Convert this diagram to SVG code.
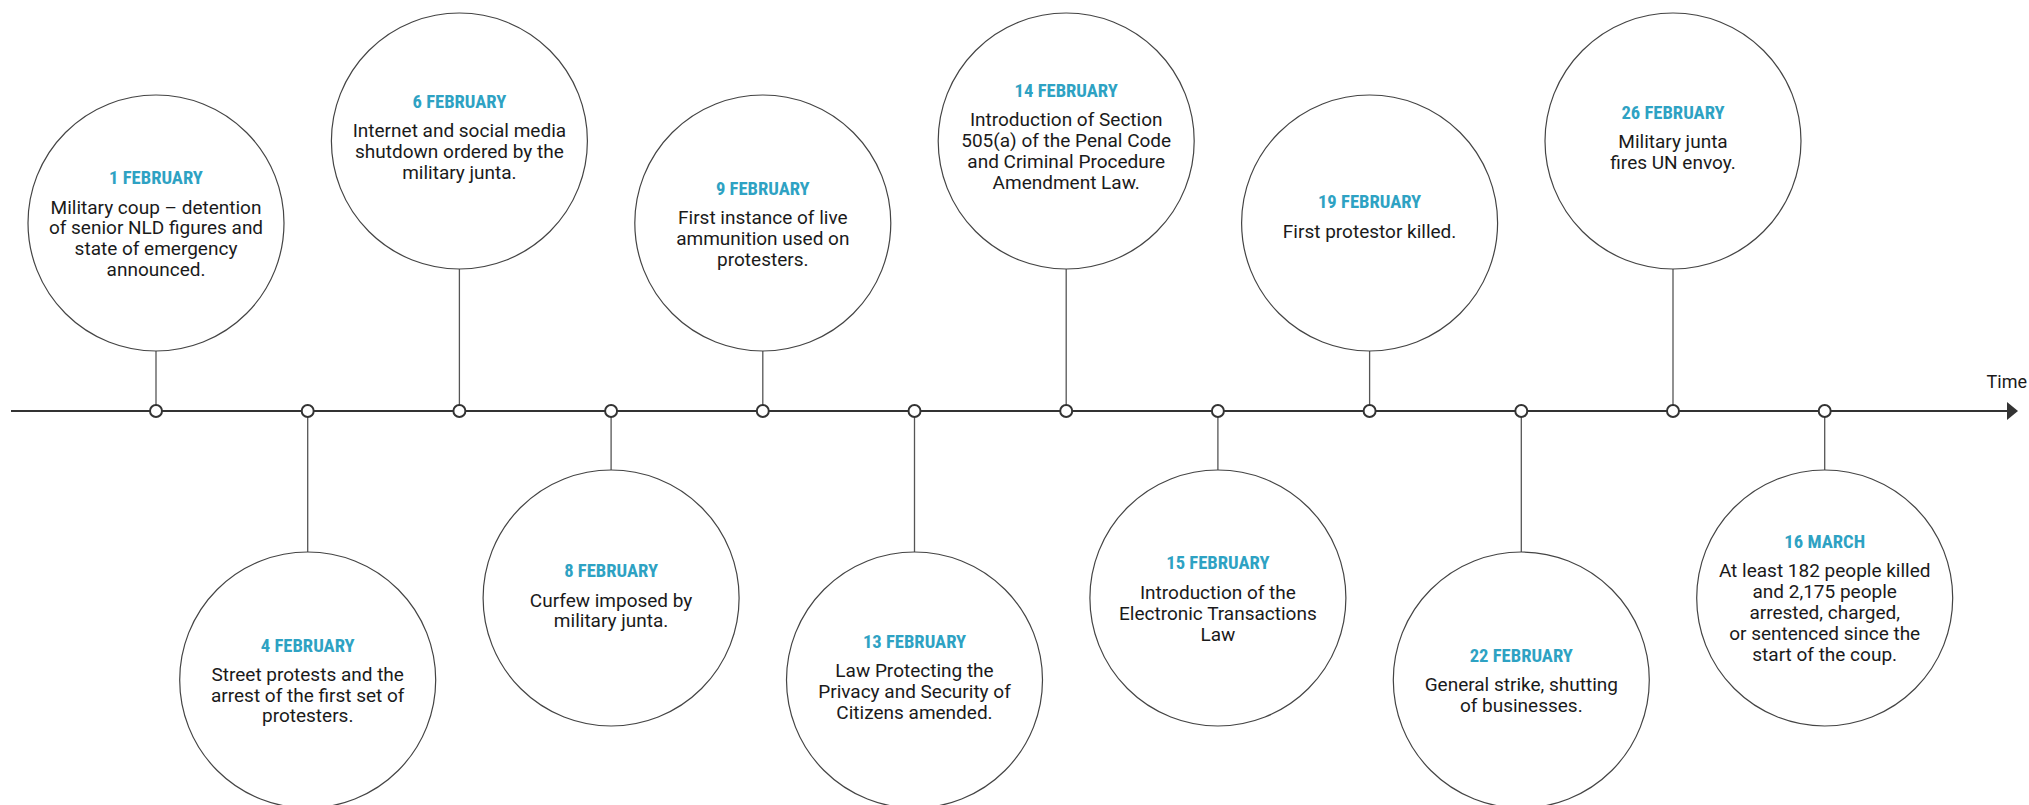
<svg xmlns="http://www.w3.org/2000/svg" width="2029" height="805" viewBox="0 0 2029 805">
<style>
.bg{fill:#ffffff}
.node circle{fill:#ffffff;stroke:#444444;stroke-width:1.2}
.date{font-family:"Liberation Sans Narrow","Roboto Condensed","Roboto",sans-serif;font-weight:700;font-size:18.6px;fill:#2ea2c3;text-anchor:middle}
.body{font-family:Roboto,"Liberation Sans",sans-serif;font-size:19px;fill:#1a1a1a;text-anchor:middle}
.stem{stroke:#555555;stroke-width:1.3;fill:none}
.axis{stroke:#333333;stroke-width:2;fill:none}
.tick{fill:#ffffff;stroke:#333333;stroke-width:2}
.time{font-family:Roboto,"Liberation Sans",sans-serif;font-size:18px;fill:#1a1a1a;text-anchor:end}
</style>
<rect class="bg" x="0" y="0" width="2029" height="805"/>

<g id="connectors">
  <line class="axis" x1="11" y1="411" x2="2008" y2="411"/>
  <polygon points="2007,402 2018,411 2007,420" fill="#333333"/>
  <line class="stem" x1="156" y1="351" x2="156" y2="405"/>
  <line class="stem" x1="307.7" y1="417" x2="307.7" y2="552"/>
  <line class="stem" x1="459.4" y1="269" x2="459.4" y2="405"/>
  <line class="stem" x1="611.1" y1="417" x2="611.1" y2="470"/>
  <line class="stem" x1="762.8" y1="351" x2="762.8" y2="405"/>
  <line class="stem" x1="914.5" y1="417" x2="914.5" y2="552"/>
  <line class="stem" x1="1066.2" y1="269" x2="1066.2" y2="405"/>
  <line class="stem" x1="1217.9" y1="417" x2="1217.9" y2="470"/>
  <line class="stem" x1="1369.6" y1="351" x2="1369.6" y2="405"/>
  <line class="stem" x1="1521.3" y1="417" x2="1521.3" y2="552"/>
  <line class="stem" x1="1673" y1="269" x2="1673" y2="405"/>
  <line class="stem" x1="1824.7" y1="417" x2="1824.7" y2="470"/>
  <circle class="tick" cx="156" cy="411" r="6"/>
  <circle class="tick" cx="307.7" cy="411" r="6"/>
  <circle class="tick" cx="459.4" cy="411" r="6"/>
  <circle class="tick" cx="611.1" cy="411" r="6"/>
  <circle class="tick" cx="762.8" cy="411" r="6"/>
  <circle class="tick" cx="914.5" cy="411" r="6"/>
  <circle class="tick" cx="1066.2" cy="411" r="6"/>
  <circle class="tick" cx="1217.9" cy="411" r="6"/>
  <circle class="tick" cx="1369.6" cy="411" r="6"/>
  <circle class="tick" cx="1521.3" cy="411" r="6"/>
  <circle class="tick" cx="1673" cy="411" r="6"/>
  <circle class="tick" cx="1824.7" cy="411" r="6"/>
  <text class="time" x="2027" y="388">Time</text>
</g>

<g id="n1" class="node">
  <circle cx="156" cy="223" r="128"/>
  <text class="date" x="156" y="183.5">1 FEBRUARY</text>
  <text class="body" x="156" y="213.5">Military coup – detention</text>
  <text class="body" x="156" y="234.3">of senior NLD figures and</text>
  <text class="body" x="156" y="255">state of emergency</text>
  <text class="body" x="156" y="275.8">announced.</text>
</g>

<g id="n2" class="node">
  <circle cx="307.7" cy="680" r="128"/>
  <text class="date" x="307.7" y="651.7">4 FEBRUARY</text>
  <text class="body" x="307.7" y="680.7">Street protests and the</text>
  <text class="body" x="307.7" y="701.5">arrest of the first set of</text>
  <text class="body" x="307.7" y="722.3">protesters.</text>
</g>

<g id="n3" class="node">
  <circle cx="459.4" cy="141" r="128"/>
  <text class="date" x="459.4" y="108.3">6 FEBRUARY</text>
  <text class="body" x="459.4" y="136.7">Internet and social media</text>
  <text class="body" x="459.4" y="157.7">shutdown ordered by the</text>
  <text class="body" x="459.4" y="178.7">military junta.</text>
</g>

<g id="n4" class="node">
  <circle cx="611.1" cy="598" r="128"/>
  <text class="date" x="611.1" y="576.7">8 FEBRUARY</text>
  <text class="body" x="611.1" y="606.7">Curfew imposed by</text>
  <text class="body" x="611.1" y="627.4">military junta.</text>
</g>

<g id="n5" class="node">
  <circle cx="762.8" cy="223" r="128"/>
  <text class="date" x="762.8" y="195">9 FEBRUARY</text>
  <text class="body" x="762.8" y="224">First instance of live</text>
  <text class="body" x="762.8" y="244.8">ammunition used on</text>
  <text class="body" x="762.8" y="265.6">protesters.</text>
</g>

<g id="n6" class="node">
  <circle cx="914.5" cy="680" r="128"/>
  <text class="date" x="914.5" y="648.3">13 FEBRUARY</text>
  <text class="body" x="914.5" y="677.3">Law Protecting the</text>
  <text class="body" x="914.5" y="698.2">Privacy and Security of</text>
  <text class="body" x="914.5" y="719">Citizens amended.</text>
</g>

<g id="n7" class="node">
  <circle cx="1066.2" cy="141" r="128"/>
  <text class="date" x="1066.2" y="96.7">14 FEBRUARY</text>
  <text class="body" x="1066.2" y="126">Introduction of Section</text>
  <text class="body" x="1066.2" y="146.8">505(a) of the Penal Code</text>
  <text class="body" x="1066.2" y="167.7">and Criminal Procedure</text>
  <text class="body" x="1066.2" y="188.7">Amendment Law.</text>
</g>

<g id="n8" class="node">
  <circle cx="1217.9" cy="598" r="128"/>
  <text class="date" x="1217.9" y="569.3">15 FEBRUARY</text>
  <text class="body" x="1217.9" y="599.3">Introduction of the</text>
  <text class="body" x="1217.9" y="620">Electronic Transactions</text>
  <text class="body" x="1217.9" y="640.7">Law</text>
</g>

<g id="n9" class="node">
  <circle cx="1369.6" cy="223" r="128"/>
  <text class="date" x="1369.6" y="207.7">19 FEBRUARY</text>
  <text class="body" x="1369.6" y="237.7">First protestor killed.</text>
</g>

<g id="n10" class="node">
  <circle cx="1521.3" cy="680" r="128"/>
  <text class="date" x="1521.3" y="661.7">22 FEBRUARY</text>
  <text class="body" x="1521.3" y="691">General strike, shutting</text>
  <text class="body" x="1521.3" y="711.7">of businesses.</text>
</g>

<g id="n11" class="node">
  <circle cx="1673" cy="141" r="128"/>
  <text class="date" x="1673" y="119">26 FEBRUARY</text>
  <text class="body" x="1673" y="148.3">Military junta</text>
  <text class="body" x="1673" y="169">fires UN envoy.</text>
</g>

<g id="n12" class="node">
  <circle cx="1824.7" cy="598" r="128"/>
  <text class="date" x="1824.7" y="547.7">16 MARCH</text>
  <text class="body" x="1824.7" y="576.7">At least 182 people killed</text>
  <text class="body" x="1824.7" y="597.7">and 2,175 people</text>
  <text class="body" x="1824.7" y="618.8">arrested, charged,</text>
  <text class="body" x="1824.7" y="639.8">or sentenced since the</text>
  <text class="body" x="1824.7" y="660.8">start of the coup.</text>
</g>
</svg>
